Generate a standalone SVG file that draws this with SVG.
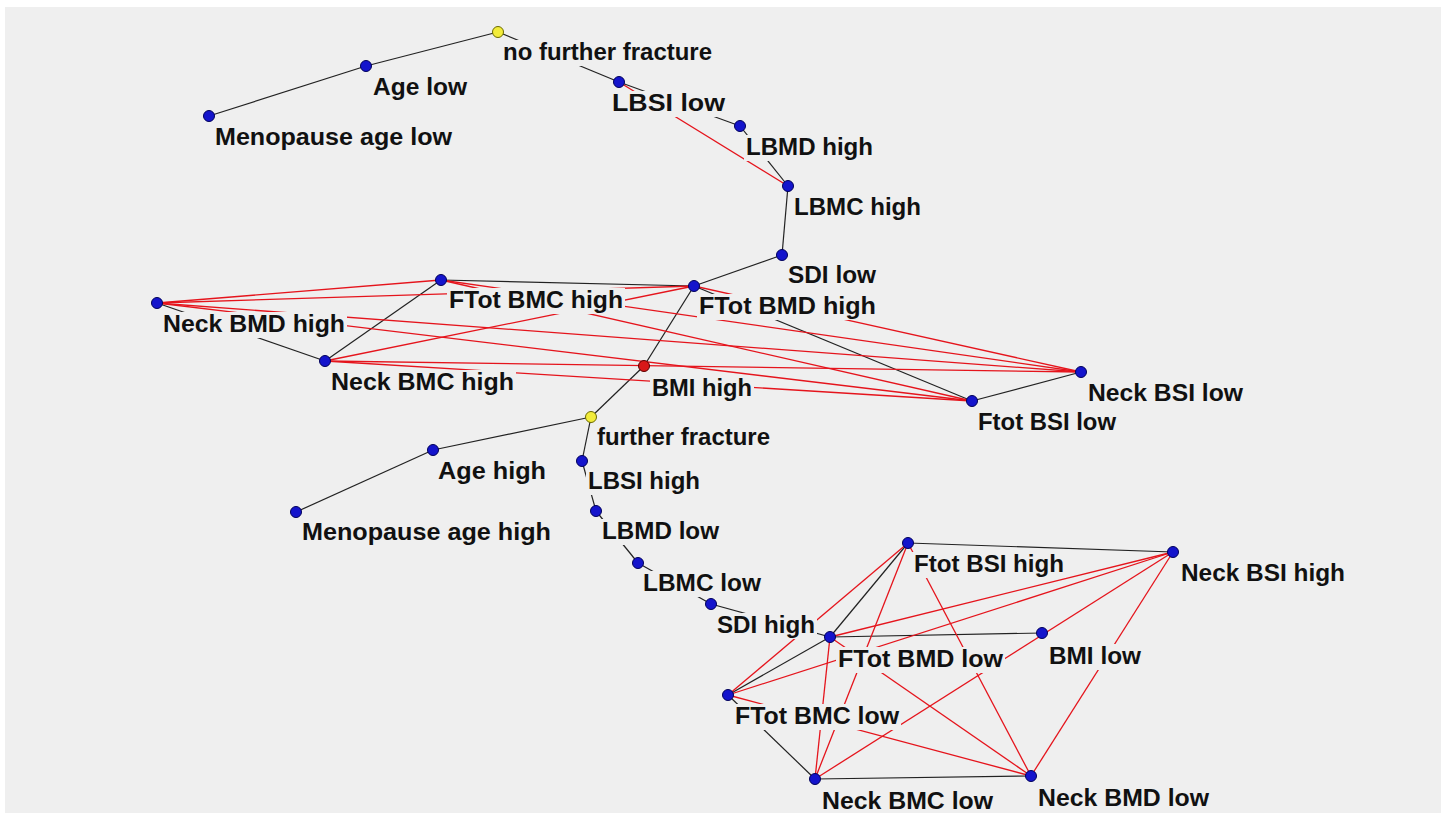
<svg xmlns="http://www.w3.org/2000/svg" width="1447" height="820" viewBox="0 0 1447 820">
<style>
.bg{fill:#efefef}
.k{stroke:#222;stroke-width:1.2;fill:none}
.r{stroke:#e5141c;stroke-width:1.3;fill:none}
.lb{fill:#efefef}
text{font-family:"Liberation Sans",Arial,sans-serif;font-weight:bold;font-size:23px;fill:#111}
.n{fill:#1414cc;stroke:#00005a;stroke-width:1}
.y{fill:#f2ec3a;stroke:#6b6a00;stroke-width:1}
.m{fill:#d81818;stroke:#5a0000;stroke-width:1}
</style>
<rect width="1447" height="820" fill="#ffffff"/>
<rect class="bg" x="5" y="7" width="1436" height="806"/>
<g id="connectors">
<line class="k" x1="209" y1="116" x2="366" y2="66"/>
<line class="k" x1="366" y1="66" x2="498" y2="32"/>
<line class="k" x1="498" y1="32" x2="619" y2="82"/>
<line class="k" x1="619" y1="82" x2="740" y2="126"/>
<line class="k" x1="740" y1="126" x2="788" y2="186"/>
<line class="k" x1="788" y1="186" x2="782" y2="255"/>
<line class="k" x1="782" y1="255" x2="694" y2="286"/>
<line class="k" x1="694" y1="286" x2="644" y2="366"/>
<line class="k" x1="644" y1="366" x2="591" y2="417"/>
<line class="k" x1="591" y1="417" x2="433" y2="450"/>
<line class="k" x1="433" y1="450" x2="296" y2="512"/>
<line class="k" x1="591" y1="417" x2="582" y2="461"/>
<line class="k" x1="582" y1="461" x2="596" y2="511"/>
<line class="k" x1="596" y1="511" x2="638" y2="563"/>
<line class="k" x1="638" y1="563" x2="711" y2="604"/>
<line class="k" x1="711" y1="604" x2="830" y2="637"/>
<line class="k" x1="441" y1="280" x2="694" y2="286"/>
<line class="k" x1="441" y1="280" x2="325" y2="361"/>
<line class="k" x1="157" y1="303" x2="325" y2="361"/>
<line class="k" x1="694" y1="286" x2="972" y2="401"/>
<line class="k" x1="972" y1="401" x2="1081" y2="372"/>
<line class="k" x1="908" y1="543" x2="1173" y2="552"/>
<line class="k" x1="908" y1="543" x2="830" y2="637"/>
<line class="k" x1="830" y1="637" x2="728" y2="695"/>
<line class="k" x1="728" y1="695" x2="815" y2="779"/>
<line class="k" x1="815" y1="779" x2="1031" y2="776"/>
<line class="k" x1="830" y1="637" x2="1042" y2="633"/>
<line class="r" x1="619" y1="82" x2="788" y2="186"/>
<line class="r" x1="157" y1="303" x2="441" y2="280"/>
<line class="r" x1="157" y1="303" x2="694" y2="286"/>
<line class="r" x1="157" y1="303" x2="1081" y2="372"/>
<line class="r" x1="157" y1="303" x2="972" y2="401"/>
<line class="r" x1="441" y1="280" x2="1081" y2="372"/>
<line class="r" x1="441" y1="280" x2="972" y2="401"/>
<line class="r" x1="694" y1="286" x2="325" y2="361"/>
<line class="r" x1="694" y1="286" x2="1081" y2="372"/>
<line class="r" x1="325" y1="361" x2="1081" y2="372"/>
<line class="r" x1="325" y1="361" x2="972" y2="401"/>
<line class="r" x1="908" y1="543" x2="728" y2="695"/>
<line class="r" x1="908" y1="543" x2="815" y2="779"/>
<line class="r" x1="908" y1="543" x2="1031" y2="776"/>
<line class="r" x1="1173" y1="552" x2="830" y2="637"/>
<line class="r" x1="1173" y1="552" x2="728" y2="695"/>
<line class="r" x1="1173" y1="552" x2="1031" y2="776"/>
<line class="r" x1="1173" y1="552" x2="815" y2="779"/>
<line class="r" x1="830" y1="637" x2="815" y2="779"/>
<line class="r" x1="830" y1="637" x2="1031" y2="776"/>
<line class="r" x1="728" y1="695" x2="1031" y2="776"/>
</g>
<g id="n-no-further-fracture"><rect class="lb" x="501" y="40" width="213" height="26"/><text x="503" y="60" textLength="209" lengthAdjust="spacingAndGlyphs">no further fracture</text><circle class="y" cx="498" cy="32" r="5.5"/></g>
<g id="n-age-low"><rect class="lb" x="371" y="75" width="98" height="26"/><text x="373" y="95" textLength="94" lengthAdjust="spacingAndGlyphs">Age low</text><circle class="n" cx="366" cy="66" r="5.5"/></g>
<g id="n-menopause-age-low"><rect class="lb" x="213" y="125" width="241" height="26"/><text x="215" y="145" textLength="237" lengthAdjust="spacingAndGlyphs">Menopause age low</text><circle class="n" cx="209" cy="116" r="5.5"/></g>
<g id="n-lbsi-low"><rect class="lb" x="610" y="91" width="117" height="26"/><text x="612" y="111" textLength="113" lengthAdjust="spacingAndGlyphs">LBSI low</text><circle class="n" cx="619" cy="82" r="5.5"/></g>
<g id="n-lbmd-high"><rect class="lb" x="744" y="135" width="131" height="26"/><text x="746" y="155" textLength="127" lengthAdjust="spacingAndGlyphs">LBMD high</text><circle class="n" cx="740" cy="126" r="5.5"/></g>
<g id="n-lbmc-high"><rect class="lb" x="792" y="195" width="131" height="26"/><text x="794" y="215" textLength="127" lengthAdjust="spacingAndGlyphs">LBMC high</text><circle class="n" cx="788" cy="186" r="5.5"/></g>
<g id="n-sdi-low"><rect class="lb" x="786" y="263" width="92" height="26"/><text x="788" y="283" textLength="88" lengthAdjust="spacingAndGlyphs">SDI low</text><circle class="n" cx="782" cy="255" r="5.5"/></g>
<g id="n-ftot-bmd-high"><rect class="lb" x="697" y="294" width="181" height="26"/><text x="699" y="314" textLength="177" lengthAdjust="spacingAndGlyphs">FTot BMD high</text><circle class="n" cx="694" cy="286" r="5.5"/></g>
<g id="n-ftot-bmc-high"><rect class="lb" x="447" y="288" width="178" height="26"/><text x="449" y="308" textLength="174" lengthAdjust="spacingAndGlyphs">FTot BMC high</text><circle class="n" cx="441" cy="280" r="5.5"/></g>
<g id="n-neck-bmd-high"><rect class="lb" x="161" y="312" width="186" height="26"/><text x="163" y="332" textLength="182" lengthAdjust="spacingAndGlyphs">Neck BMD high</text><circle class="n" cx="157" cy="303" r="5.5"/></g>
<g id="n-neck-bmc-high"><rect class="lb" x="329" y="370" width="187" height="26"/><text x="331" y="390" textLength="183" lengthAdjust="spacingAndGlyphs">Neck BMC high</text><circle class="n" cx="325" cy="361" r="5.5"/></g>
<g id="n-bmi-high"><rect class="lb" x="650" y="376" width="104" height="26"/><text x="652" y="396" textLength="100" lengthAdjust="spacingAndGlyphs">BMI high</text><circle class="m" cx="644" cy="366" r="5.5"/></g>
<g id="n-neck-bsi-low"><rect class="lb" x="1086" y="381" width="159" height="26"/><text x="1088" y="401" textLength="155" lengthAdjust="spacingAndGlyphs">Neck BSI low</text><circle class="n" cx="1081" cy="372" r="5.5"/></g>
<g id="n-ftot-bsi-low"><rect class="lb" x="976" y="410" width="142" height="26"/><text x="978" y="430" textLength="138" lengthAdjust="spacingAndGlyphs">Ftot BSI low</text><circle class="n" cx="972" cy="401" r="5.5"/></g>
<g id="n-further-fracture"><rect class="lb" x="595" y="425" width="177" height="26"/><text x="597" y="445" textLength="173" lengthAdjust="spacingAndGlyphs">further fracture</text><circle class="y" cx="591" cy="417" r="5.5"/></g>
<g id="n-age-high"><rect class="lb" x="436" y="459" width="112" height="26"/><text x="438" y="479" textLength="108" lengthAdjust="spacingAndGlyphs">Age high</text><circle class="n" cx="433" cy="450" r="5.5"/></g>
<g id="n-menopause-age-high"><rect class="lb" x="300" y="520" width="253" height="26"/><text x="302" y="540" textLength="249" lengthAdjust="spacingAndGlyphs">Menopause age high</text><circle class="n" cx="296" cy="512" r="5.5"/></g>
<g id="n-lbsi-high"><rect class="lb" x="586" y="469" width="116" height="26"/><text x="588" y="489" textLength="112" lengthAdjust="spacingAndGlyphs">LBSI high</text><circle class="n" cx="582" cy="461" r="5.5"/></g>
<g id="n-lbmd-low"><rect class="lb" x="600" y="519" width="121" height="26"/><text x="602" y="539" textLength="117" lengthAdjust="spacingAndGlyphs">LBMD low</text><circle class="n" cx="596" cy="511" r="5.5"/></g>
<g id="n-lbmc-low"><rect class="lb" x="641" y="571" width="122" height="26"/><text x="643" y="591" textLength="118" lengthAdjust="spacingAndGlyphs">LBMC low</text><circle class="n" cx="638" cy="563" r="5.5"/></g>
<g id="n-sdi-high"><rect class="lb" x="715" y="613" width="102" height="26"/><text x="717" y="633" textLength="98" lengthAdjust="spacingAndGlyphs">SDI high</text><circle class="n" cx="711" cy="604" r="5.5"/></g>
<g id="n-ftot-bsi-high"><rect class="lb" x="912" y="552" width="154" height="26"/><text x="914" y="572" textLength="150" lengthAdjust="spacingAndGlyphs">Ftot BSI high</text><circle class="n" cx="908" cy="543" r="5.5"/></g>
<g id="n-neck-bsi-high"><rect class="lb" x="1179" y="561" width="168" height="26"/><text x="1181" y="581" textLength="164" lengthAdjust="spacingAndGlyphs">Neck BSI high</text><circle class="n" cx="1173" cy="552" r="5.5"/></g>
<g id="n-ftot-bmd-low"><rect class="lb" x="836" y="647" width="169" height="26"/><text x="838" y="667" textLength="165" lengthAdjust="spacingAndGlyphs">FTot BMD low</text><circle class="n" cx="830" cy="637" r="5.5"/></g>
<g id="n-bmi-low"><rect class="lb" x="1047" y="644" width="96" height="26"/><text x="1049" y="664" textLength="92" lengthAdjust="spacingAndGlyphs">BMI low</text><circle class="n" cx="1042" cy="633" r="5.5"/></g>
<g id="n-ftot-bmc-low"><rect class="lb" x="733" y="704" width="168" height="26"/><text x="735" y="724" textLength="164" lengthAdjust="spacingAndGlyphs">FTot BMC low</text><circle class="n" cx="728" cy="695" r="5.5"/></g>
<g id="n-neck-bmc-low"><rect class="lb" x="820" y="789" width="175" height="24"/><text x="822" y="809" textLength="171" lengthAdjust="spacingAndGlyphs">Neck BMC low</text><circle class="n" cx="815" cy="779" r="5.5"/></g>
<g id="n-neck-bmd-low"><rect class="lb" x="1036" y="786" width="175" height="26"/><text x="1038" y="806" textLength="171" lengthAdjust="spacingAndGlyphs">Neck BMD low</text><circle class="n" cx="1031" cy="776" r="5.5"/></g>
</svg>
